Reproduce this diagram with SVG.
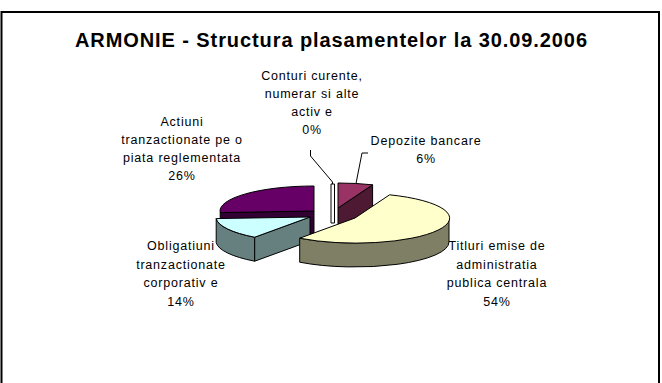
<svg xmlns="http://www.w3.org/2000/svg" width="662" height="383" viewBox="0 0 662 383">
<style>
.lbl{font-family:"Liberation Sans",Arial,sans-serif;font-size:12.5px;letter-spacing:0.8px;fill:#000;text-anchor:middle}
.ttl{font-family:"Liberation Sans",Arial,sans-serif;font-size:20px;font-weight:bold;fill:#000;text-anchor:middle}
.e{stroke:#000;stroke-width:1;stroke-linejoin:round}
.ld{fill:none;stroke:#000;stroke-width:1}
</style>
<rect x="0" y="0" width="662" height="383" fill="#fff"/>
<rect x="1.5" y="12" width="657.5" height="380" fill="#fff" stroke="#000" stroke-width="2"/>
<g id="title">
<text class="ttl" x="331" y="47" textLength="512" lengthAdjust="spacing">ARMONIE - Structura plasamentelor la 30.09.2006</text>
</g>
<g id="slice-actiuni">
<path class="e" fill="#330033" d="M314,211 L220.2,212.6 L220.2,236.6 L314,235 Z"/>
<path class="e" fill="#660066" d="M314,211 L220.2,212.6 A94,25 0 0 1 314,186 Z"/>
<text class="lbl" x="182" y="126">Actiuni</text>
<text class="lbl" x="182" y="144">tranzactionate pe o</text>
<text class="lbl" x="182" y="162">piata reglementata</text>
<text class="lbl" x="182" y="180">26%</text>
</g>
<g id="slice-depozite">
<path class="e" fill="#4d1933" d="M338,208 L372.6,184.8 L372.6,208.8 L338,232 Z"/>
<path class="e" fill="#993366" d="M338,208 L338,183 A94,25 0 0 1 372.6,184.8 Z"/>
<text class="lbl" x="426" y="145">Depozite bancare</text>
<text class="lbl" x="426" y="163">6%</text>
</g>
<g id="slice-conturi">
<rect class="e" fill="#fff" x="331" y="184" width="3.5" height="39"/>
<text class="lbl" x="312" y="80">Conturi curente,</text>
<text class="lbl" x="312" y="98">numerar si alte</text>
<text class="lbl" x="312" y="116">activ e</text>
<text class="lbl" x="312" y="134">0%</text>
</g>
<g id="slice-obligatiuni">
<path class="e" fill="#668080" d="M254.7,237.2 A94,25 0 0 1 216.2,218.6 L216.2,242.6 A94,25 0 0 0 254.7,261.2 Z"/>
<path class="e" fill="#668080" d="M310,217 L254.7,237.2 L254.7,261.2 L310,241 Z"/>
<path class="e" fill="#ccffff" d="M310,217 L254.7,237.2 A94,25 0 0 1 216.2,218.6 Z"/>
<text class="lbl" x="181" y="250">Obligatiuni</text>
<text class="lbl" x="181" y="268.5">tranzactionate</text>
<text class="lbl" x="181" y="287">corporativ e</text>
<text class="lbl" x="181" y="305.5">14%</text>
</g>
<g id="slice-titluri">
<path class="e" fill="#7f7f66" d="M449,218 A94,25 0 0 1 299.7,238.2 L299.7,262.2 A94,25 0 0 0 449,242 Z"/>
<path class="e" fill="#ffffcc" d="M355,218 L389.6,194.8 A94,25 0 1 1 299.7,238.2 Z"/>
<text class="lbl" x="497" y="250">Titluri emise de</text>
<text class="lbl" x="497" y="268.5">administratia</text>
<text class="lbl" x="497" y="287">publica centrala</text>
<text class="lbl" x="497" y="305.5">54%</text>
</g>
<g id="connectors">
<polyline class="ld" points="310.5,150 310.5,156 332.5,182 332.5,184"/>
<polyline class="ld" points="368,153 362,153 356,183.5"/>
</g>
</svg>
